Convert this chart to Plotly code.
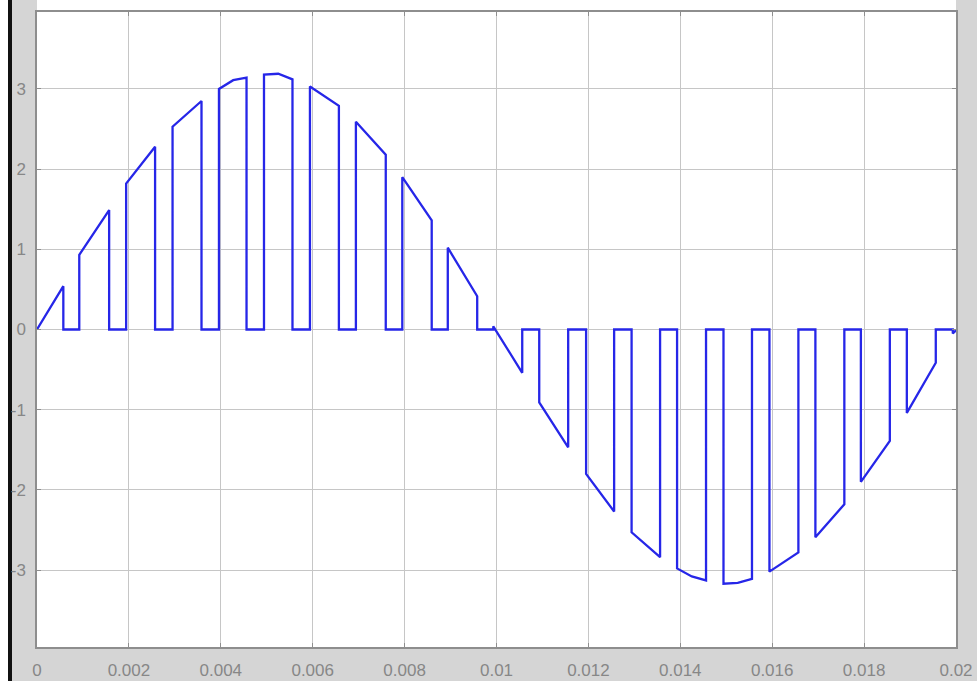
import plotly.graph_objects as go

# Waveform vertices (time in s, value)
t_vals = [0, 0.000573, 0.000573, 0.00092, 0.00092, 0.00157, 0.00157, 0.00194, 0.00194, 0.00257,
          0.00257, 0.00295, 0.00295, 0.00358, 0.00358, 0.00396, 0.00396, 0.00427, 0.00456, 0.00456,
          0.00494, 0.00494, 0.00525, 0.00556, 0.00556, 0.00594, 0.00594, 0.00657, 0.00657, 0.00694,
          0.00694, 0.00759, 0.00759, 0.00795, 0.00795, 0.00859, 0.00859, 0.00894, 0.00894, 0.00958,
          0.00958, 0.00993, 0.00993, 0.01056, 0.01056, 0.01093, 0.01093, 0.01156, 0.01156, 0.01195,
          0.01195, 0.01256, 0.01256, 0.01294, 0.01294, 0.01356, 0.01356, 0.01393, 0.01393, 0.01425,
          0.01456, 0.01456, 0.01494, 0.01494, 0.01525, 0.01556, 0.01556, 0.01594, 0.01594, 0.01657,
          0.01657, 0.01694, 0.01694, 0.01757, 0.01757, 0.01793, 0.01793, 0.01856, 0.01856, 0.01893,
          0.01893, 0.01956, 0.01956, 0.01993, 0.01993, 0.02]
v_vals = [0, 0.54, 0, 0, 0.93, 1.49, 0, 0, 1.82, 2.28,
          0, 0, 2.53, 2.85, 0, 0, 3.0, 3.11, 3.14, 0,
          0, 3.18, 3.19, 3.12, 0, 0, 3.03, 2.79, 0, 0,
          2.59, 2.18, 0, 0, 1.90, 1.36, 0, 0, 1.02, 0.415,
          0, 0, 0.04, -0.54, 0, 0, -0.91, -1.47, 0, 0,
          -1.80, -2.27, 0, 0, -2.53, -2.84, 0, 0, -2.98, -3.08,
          -3.13, 0, 0, -3.17, -3.16, -3.11, 0, 0, -3.02, -2.78,
          0, 0, -2.59, -2.18, 0, 0, -1.90, -1.39, 0, 0,
          -1.04, -0.415, 0, 0, -0.05, -0.01]

x_tick_vals = [0, 0.002, 0.004, 0.006, 0.008, 0.01, 0.012, 0.014, 0.016, 0.018, 0.02]
x_tick_text = ["0", "0.002", "0.004", "0.006", "0.008", "0.01", "0.012", "0.014", "0.016", "0.018", "0.02"]
y_tick_vals = [-3, -2, -1, 0, 1, 2, 3]
y_tick_text = ["-3", "-2", "-1", "0", "1", "2", "3"]

W, H = 977, 681
ML, MR, MT, MB = 37, 21, 12, 34
PW, PH = W - ML - MR, H - MT - MB

fig = go.Figure()
fig.add_trace(go.Scatter(x=t_vals, y=v_vals, mode="lines",
                         line=dict(color="rgb(38,38,232)", width=2.3), showlegend=False,
                         hoverinfo="x+y"))

def px_x(p):
    return (p - ML) / PW

def px_y(p):
    return (H - MB - p) / PH

shapes = [
    # white strip on the far left
    dict(type="rect", xref="paper", yref="paper", x0=px_x(0), x1=px_x(8), y0=px_y(H), y1=px_y(0),
         fillcolor="white", line_width=0, layer="below"),
    # black bar
    dict(type="rect", xref="paper", yref="paper", x0=px_x(8), x1=px_x(12), y0=px_y(H), y1=px_y(0),
         fillcolor="#111111", line_width=0, layer="below"),
    # white strip above plot
    dict(type="rect", xref="paper", yref="paper", x0=0, x1=1, y0=1, y1=px_y(0),
         fillcolor="white", line_width=0, layer="below"),
]

fig.update_layout(
    width=W, height=H,
    margin=dict(l=ML, r=MR, t=MT, b=MB, pad=0, autoexpand=False),
    paper_bgcolor="#d5d5d5",
    plot_bgcolor="white",
    shapes=shapes,
    font=dict(family="Liberation Sans, Arial, sans-serif", size=17, color="#878787"),
)
fig.update_xaxes(range=[0, 0.02], tickvals=x_tick_vals, ticktext=x_tick_text,
                 showgrid=True, gridcolor="#c6c6c6", gridwidth=1,
                 showline=True, linecolor="#8e8e8e", linewidth=1.5, mirror="ticks",
                 ticks="inside", ticklen=4, tickcolor="#8e8e8e",
                 ticklabelstandoff=7, zeroline=False, automargin=False)
fig.update_yaxes(range=[-3.96, 3.96], tickvals=y_tick_vals, ticktext=y_tick_text,
                 showgrid=True, gridcolor="#c6c6c6", gridwidth=1,
                 showline=True, linecolor="#8e8e8e", linewidth=1.5, mirror="ticks",
                 ticks="inside", ticklen=4, tickcolor="#8e8e8e",
                 ticklabelstandoff=6, zeroline=False, automargin=False)

fig.write_html("out.html", config={"displayModeBar": False},
               post_script="document.body.style.margin='0';document.body.style.padding='0';document.body.style.overflow='hidden';")
